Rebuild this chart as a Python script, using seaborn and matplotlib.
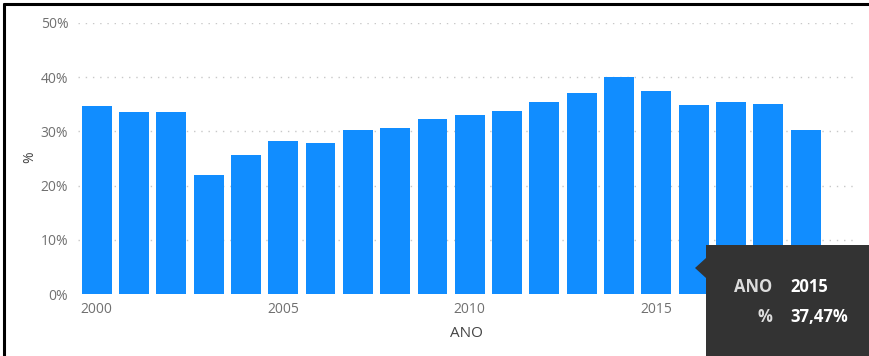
import matplotlib
matplotlib.use("Agg")
import matplotlib.pyplot as plt
import seaborn as sns
import pandas as pd
from matplotlib.patches import Polygon, Rectangle
from matplotlib.lines import Line2D

# ---- data ----
anos = [2000, 2001, 2002, 2003, 2004, 2005, 2006, 2007, 2008, 2009,
        2010, 2011, 2012, 2013, 2014, 2015, 2016, 2017, 2018, 2019]
pct = [34.6, 33.5, 33.5, 21.9, 25.7, 28.3, 27.9, 30.2, 30.7, 32.2,
       33.1, 33.7, 35.4, 37.1, 40.1, 37.47, 34.9, 35.4, 35.0, 30.3]
xtick_years = [2000, 2005, 2010, 2015]
ytick_vals = [0, 10, 20, 30, 40, 50]
tooltip_ano = "2015"
tooltip_pct = "37,47%"

df = pd.DataFrame({"ANO": anos, "pct": pct})

sns.set_theme(style="white")
plt.rcParams["font.family"] = ["Open Sans", "DejaVu Sans"]

W, H = 869, 356
fig = plt.figure(figsize=(W / 100, H / 100), dpi=100)
ax = fig.add_axes([78 / W, 1 - 294 / H, (853 - 78) / W, (294 - 23) / H])

for v in ytick_vals[1:]:
    ax.axhline(v, color="#c8c8c8", lw=1.0, linestyle=(0, (1, 4.2)), zorder=0)

sns.barplot(data=df, x="ANO", y="pct", order=anos, color="#118DFF",
            saturation=1, width=0.8, ax=ax, zorder=2, edgecolor="#118DFF",
            linewidth=0)

ax.set_xlim(-0.5, 20.27)
ax.set_ylim(0, 50)
ax.set_yticks(ytick_vals)
ax.set_yticklabels([f"{v}%" for v in ytick_vals])
ax.set_xticks([anos.index(y) for y in xtick_years])
ax.set_xticklabels([str(y) for y in xtick_years])
ax.tick_params(axis="both", length=0, labelsize=10, colors="#707070")
ax.tick_params(axis="y", pad=7)
ax.tick_params(axis="x", pad=6)
for s in ax.spines.values():
    s.set_visible(False)
ax.grid(False)

ax.set_xlabel("ANO", fontsize=11, color="#444444")
ax.set_ylabel("%", fontsize=10, color="#444444")
ax.xaxis.set_label_coords((466 - 78) / 775, (294 - 326) / 271)
ax.yaxis.set_label_coords((37 - 78) / 775, (294 - 157) / 271)

def P(x, y):
    return (x / W, 1 - y / H)

# black frame (top and left)
fig.add_artist(Line2D([P(4, 0)[0], P(869, 0)[0]], [P(0, 4)[1]] * 2,
                      color="black", lw=2.2, transform=fig.transFigure))
fig.add_artist(Line2D([P(4, 0)[0]] * 2, [P(0, 4)[1], P(0, 356)[1]],
                      color="black", lw=2.2, transform=fig.transFigure))

# tooltip
fig.add_artist(Rectangle(P(706, 356), (869 - 706) / W, (356 - 245) / H,
                         transform=fig.transFigure, facecolor="#333333",
                         edgecolor="none", zorder=10))
fig.add_artist(Polygon([P(706, 258), P(695, 268), P(706, 278)], closed=True,
                       transform=fig.transFigure, facecolor="#333333",
                       edgecolor="none", zorder=10))
fig.text(*P(772, 287), "ANO", ha="right", va="center", fontsize=12,
         fontweight="bold", color="#dddddd", zorder=11)
fig.text(*P(790, 287), tooltip_ano, ha="left", va="center", fontsize=12,
         fontweight="bold", color="white", zorder=11)
fig.text(*P(772, 317), "%", ha="right", va="center", fontsize=12,
         fontweight="bold", color="#dddddd", zorder=11)
fig.text(*P(790, 317), tooltip_pct, ha="left", va="center", fontsize=12,
         fontweight="bold", color="white", zorder=11)

fig.savefig("out.png", dpi=100)
